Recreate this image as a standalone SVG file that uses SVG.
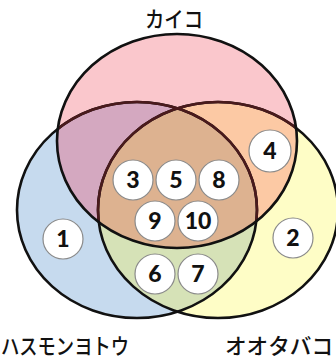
<svg xmlns="http://www.w3.org/2000/svg" width="336" height="361" viewBox="0 0 336 361">
  <style>
    .lbl { font-family: "Noto Sans CJK JP", "Noto Sans", sans-serif; font-size: 22px; font-weight: 500; fill: #111; }
    .num circle { fill: #fff; stroke: #8a8a8a; stroke-width: 1.2; }
    .num text { font-family: Lato, "Liberation Sans", sans-serif; font-weight: 900; font-size: 23px; fill: #111; text-anchor: middle; }
    .edge { fill: none; stroke: #111; stroke-width: 2.6; }
    .inner { fill: none; stroke: #4a1a1c; stroke-width: 2.6; }
  </style>
  <defs>
    <ellipse id="eT" cx="177" cy="141" rx="120" ry="107"/>
    <ellipse id="eL" cx="137" cy="210" rx="120" ry="108"/>
    <ellipse id="eR" cx="218" cy="210" rx="120" ry="108"/>
    <clipPath id="cT"><use href="#eT"/></clipPath>
    <clipPath id="cL"><use href="#eL"/></clipPath>
    <clipPath id="cR"><use href="#eR"/></clipPath>
  </defs>
  <rect width="336" height="361" fill="#fff"/>

  <g id="regions">
    <use href="#eL" fill="#C6DAEE"/>
    <use href="#eR" fill="#FEFDC6"/>
    <g clip-path="url(#cL)"><use href="#eR" fill="#D6E2B7"/></g>
    <use href="#eT" fill="#FAC7CC"/>
    <g clip-path="url(#cT)"><use href="#eL" fill="#D4A8C0"/></g>
    <g clip-path="url(#cT)"><use href="#eR" fill="#FCC9A4"/></g>
    <g clip-path="url(#cT)"><g clip-path="url(#cL)"><use href="#eR" fill="#DDB290"/></g></g>
  </g>

  <g id="outlines">
    <use href="#eL" class="edge"/>
    <use href="#eR" class="edge"/>
    <g clip-path="url(#cT)">
      <use href="#eL" class="inner"/>
      <use href="#eR" class="inner"/>
    </g>
    <use href="#eT" class="edge"/>
  </g>

  <g id="set-kaiko"><text class="lbl" x="145" y="27" textLength="58" lengthAdjust="spacingAndGlyphs">カイコ</text></g>
  <g id="set-hasumonyotou"><text class="lbl" x="1" y="354" textLength="128" lengthAdjust="spacingAndGlyphs">ハスモンヨトウ</text></g>
  <g id="set-ootabako"><text class="lbl" x="225" y="354" textLength="108" lengthAdjust="spacingAndGlyphs">オオタバコ</text></g>

  <g id="n1" class="num"><circle cx="63" cy="239" r="20"/><text x="63" y="247">1</text></g>
  <g id="n2" class="num"><circle cx="293" cy="238" r="20"/><text x="293" y="246">2</text></g>
  <g id="n3" class="num"><circle cx="133" cy="180" r="20"/><text x="133" y="188">3</text></g>
  <g id="n4" class="num"><circle cx="270" cy="151" r="21"/><text x="270" y="159">4</text></g>
  <g id="n5" class="num"><circle cx="176" cy="180" r="20"/><text x="176" y="188">5</text></g>
  <g id="n6" class="num"><circle cx="155" cy="274" r="20"/><text x="155" y="282">6</text></g>
  <g id="n7" class="num"><circle cx="198" cy="274" r="20"/><text x="198" y="282">7</text></g>
  <g id="n8" class="num"><circle cx="219" cy="180" r="20"/><text x="219" y="188">8</text></g>
  <g id="n9" class="num"><circle cx="155" cy="221" r="20"/><text x="155" y="229">9</text></g>
  <g id="n10" class="num"><circle cx="198" cy="221" r="20"/><text x="198" y="229">10</text></g>
</svg>
